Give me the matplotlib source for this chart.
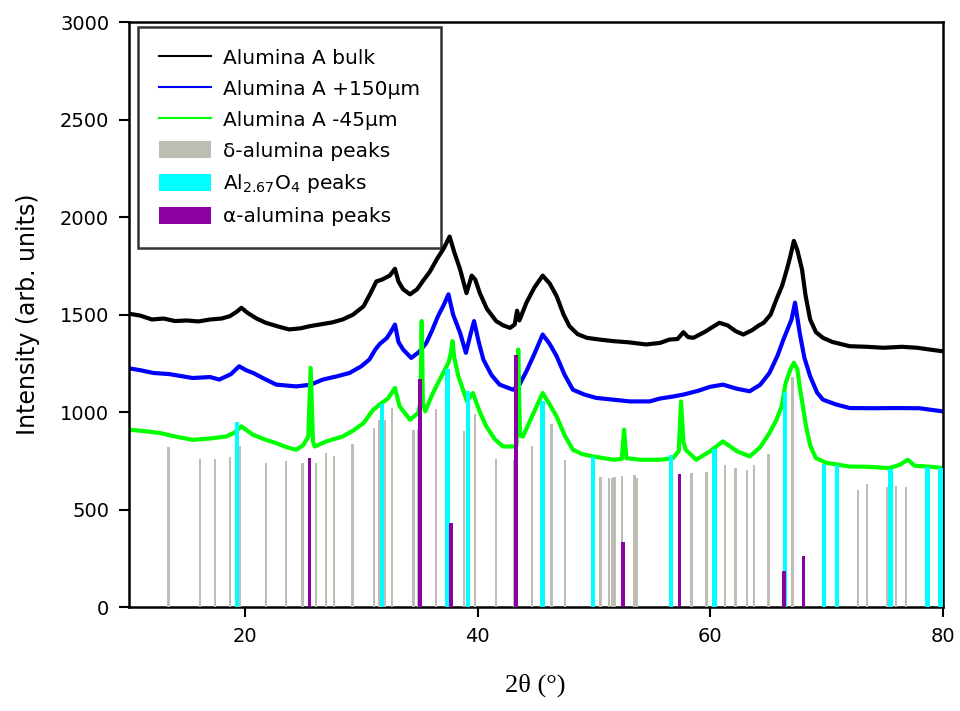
import matplotlib
matplotlib.use("Agg")
import matplotlib.pyplot as plt

plt.rcParams['font.family'] = ['DejaVu Sans']
plt.rcParams['mathtext.fontset'] = 'dejavusans'
plt.rcParams['mathtext.default'] = 'regular'

# ---- data: diffraction patterns ----
bulk_x = [10, 11, 12, 13, 14, 15, 16, 17, 18, 18.7, 19.3, 19.7, 20.2, 21, 21.8, 22.8, 23.8, 24.8,
          25.6, 26.5, 27.5, 28.4, 29.3, 30.2, 30.8, 31.3, 31.8, 32.45, 32.9, 33.2, 33.6, 34.2, 34.8,
          35.3, 35.9, 36.5, 37.1, 37.6, 38.0, 38.5, 39.05, 39.5, 39.8, 40.2, 40.8, 41.6, 42.2, 42.8,
          43.2, 43.4, 43.6, 44.2, 44.9, 45.6, 46.2, 46.8, 47.4, 47.9, 48.6, 49.4, 50.5, 51.7, 53,
          54.5, 55.7, 56.5, 57.2, 57.7, 58.1, 58.55, 59.5, 60.3, 60.8, 61.5, 62.2, 62.85, 63.6, 64.2,
          64.6, 65.2, 65.7, 66.2, 66.6, 66.9, 67.2, 67.5, 67.9, 68.2, 68.6, 69.1, 69.7, 70.5, 72.0,
          73.5, 74.9, 76.5, 77.8, 79, 80]
bulk_y = [1505, 1495, 1475, 1480, 1467, 1470, 1465, 1475, 1480, 1492, 1515, 1535, 1510, 1480, 1458,
          1440, 1424, 1430, 1441, 1450, 1460, 1475, 1500, 1543, 1610, 1670, 1680, 1700, 1735, 1670,
          1630, 1604, 1630, 1672, 1720, 1784, 1840, 1900, 1820, 1732, 1610, 1700, 1680, 1610, 1530,
          1467, 1445, 1432, 1450, 1520, 1470, 1561, 1640, 1700, 1660, 1595, 1500, 1441, 1400, 1381,
          1372, 1364, 1358, 1347, 1355, 1372, 1375, 1410, 1385, 1381, 1410, 1440, 1458, 1445, 1415,
          1398, 1420, 1445, 1458, 1500, 1578, 1650, 1732, 1800, 1878, 1830, 1732, 1600, 1475, 1410,
          1381, 1360, 1338, 1335, 1330, 1335, 1330, 1320, 1312]

p150_x = [10, 11, 12.1, 13.5, 15.5, 17, 17.8, 18.8, 19.5, 20.1, 20.7, 21.7, 22.7, 24.4, 25.6, 26.7,
          28, 29.0, 30, 30.7, 31.2, 31.6, 32.2, 32.5, 32.9, 33.2, 33.6, 34.3, 35.0, 35.6, 36.1, 36.6,
          37.1, 37.5, 37.9, 38.5, 39.0, 39.4, 39.7, 40.1, 40.5, 41.2, 41.9, 43.05, 43.6, 44.2, 44.9,
          45.6, 46.2, 46.8, 47.5, 48.2, 49.2, 50.2, 51.5, 53.1, 54.8, 55.7, 56.8, 57.7, 59, 60, 61.1,
          62.3, 63.4, 64.3, 65.1, 65.8, 66.3, 67.0, 67.3, 67.7, 68.1, 68.6, 69.2, 69.7, 70.8, 72, 74,
          76, 78, 80]
p150_y = [1225, 1215, 1201, 1195, 1175, 1180, 1167, 1195, 1235, 1215, 1201, 1170, 1141, 1132, 1140,
          1167, 1185, 1201, 1235, 1270, 1320, 1350, 1380, 1407, 1449, 1360, 1321, 1278, 1310, 1355,
          1420, 1492, 1550, 1604, 1500, 1407, 1304, 1400, 1467, 1360, 1270, 1190, 1141, 1115, 1140,
          1209, 1300, 1398, 1350, 1287, 1190, 1115, 1090, 1073, 1065, 1055, 1055, 1070, 1080, 1090,
          1110, 1130, 1141, 1120, 1107, 1140, 1201, 1290, 1372, 1475, 1561, 1407, 1280, 1184, 1100,
          1064, 1040, 1021, 1020, 1021, 1020, 1004]

m45_x = [10, 11, 12.7, 14, 15.5, 17, 18.4, 19.1, 19.7, 20.2, 20.7, 21.7, 22.7, 23.6, 24.4, 25.0,
         25.45, 25.65, 25.85, 26.0, 27, 28.4, 29.3, 30.2, 31.0, 31.6, 32.3, 32.9, 33.3, 34.2, 34.9,
         35.1, 35.2, 35.3, 35.5, 36.1, 36.75, 37.5, 37.7, 37.85, 38.0, 38.35, 39.1, 39.6, 40.2, 40.75,
         41.5, 42.2, 43.2, 43.35, 43.5, 43.65, 43.9, 44.7, 45.6, 46.2, 46.8, 47.5, 48.2, 49.0, 49.9,
         51.7, 52.4, 52.6, 52.8, 54, 55.7, 56.8, 57.3, 57.5, 57.7, 57.9, 58.8, 60, 61.1, 62.3, 63.4,
         64.3, 65.1, 65.7, 66.15, 66.5, 66.9, 67.2, 67.5, 67.7, 68.25, 68.6, 69.1, 70, 72, 73.5, 75.4,
         76.3, 77.0, 77.6, 79, 80]
m45_y = [910, 905, 893, 875, 858, 865, 875, 895, 927, 905, 884, 860, 841, 820, 807, 830, 875, 1227,
         850, 824, 850, 875, 905, 944, 1010, 1040, 1070, 1124, 1030, 961, 996, 1050, 1467, 1050, 1004,
         1090, 1167, 1253, 1300, 1364, 1280, 1184, 1055, 1098, 1000, 927, 860, 824, 824, 830, 1321,
         880, 875, 980, 1098, 1040, 978, 880, 807, 785, 773, 756, 760, 910, 764, 756, 756, 764, 800,
         1055, 850, 807, 756, 800, 850, 800, 773, 820, 893, 960, 1030, 1150, 1218, 1253, 1220, 1132,
         927, 830, 764, 740, 721, 720, 713, 730, 756, 725, 720, 713]

# ---- data: reference peak positions ----
delta_x = [13.43, 16.15, 17.4, 18.72, 19.52, 21.8, 23.55, 24.95, 26.13, 26.98, 27.64, 29.24, 31.1,
           31.53, 32.0, 32.67, 34.5, 34.9, 36.45, 38.85, 39.77, 41.57, 43.17, 44.68, 46.37, 47.51,
           50.57, 51.32, 51.58, 51.77, 52.43, 53.49, 53.72, 58.41, 59.7, 61.3, 62.18, 63.18, 63.76,
           65.01, 67.07, 72.7, 73.5, 75.25, 75.99, 76.85]
delta_h = [822, 760, 760, 770, 825, 738, 748, 741, 741, 791, 776, 836, 918, 959, 961, 1019, 907, 913,
           1014, 901, 990, 759, 757, 827, 938, 755, 668, 663, 663, 668, 673, 678, 663, 690, 695, 729,
           712, 702, 728, 784, 1178, 603, 633, 616, 621, 616]
al267_x = [19.3, 31.8, 37.42, 39.19, 45.57, 49.91, 56.64, 60.38, 66.42, 69.81, 70.93, 75.5, 78.7, 79.8]
al267_h = [950, 1042, 1223, 1110, 1058, 772, 779, 810, 1101, 733, 729, 707, 719, 712]
alpha_x = [25.53, 35.07, 37.73, 43.31, 52.52, 57.35, 66.36, 68.04]
alpha_h = [767, 1170, 430, 1293, 334, 682, 188, 265]

fig = plt.figure(figsize=(9.6, 7.11), dpi=100)
ax = fig.add_axes([0.134, 0.146, 0.848, 0.823])

ax.plot(bulk_x, bulk_y, color='black', lw=3.0, label='Alumina A bulk', zorder=2)
ax.plot(p150_x, p150_y, color='#0000FF', lw=3.0, label='Alumina A +150\u03bcm', zorder=2)
ax.plot(m45_x, m45_y, color='#00FF00', lw=3.0, label='Alumina A -45\u03bcm', zorder=2)

ax.bar(delta_x, delta_h, width=0.2, color='#BDBDB3', label='\u03b4-alumina peaks', zorder=3)
ax.bar(al267_x, al267_h, width=0.38, color='#00FFFF', label='Al$_{2.67}$O$_4$ peaks', zorder=3)
ax.bar(alpha_x, alpha_h, width=0.3, color='#8B00A3', label='\u03b1-alumina peaks', zorder=3)

ax.set_xlim(10, 80)
ax.set_ylim(0, 3000)
ax.set_xticks([20, 40, 60, 80])
ax.set_yticks([0, 500, 1000, 1500, 2000, 2500, 3000])
for s in ax.spines.values():
    s.set_linewidth(1.8)
ax.tick_params(direction='out', length=7, width=1.5, labelsize=14)
ax.tick_params(axis='x', pad=7)
ax.tick_params(axis='y', pad=7)

ax.set_xlabel('2\u03b8 (\u00b0)', family=['Liberation Serif', 'DejaVu Serif'], fontsize=19, labelpad=20)
ax.set_ylabel('Intensity (arb. units)', fontsize=17, labelpad=14)

leg = ax.legend(loc='upper left', bbox_to_anchor=(0.011, 0.991), borderaxespad=0,
                fontsize=14.5, frameon=True, fancybox=False, edgecolor='black',
                handlelength=2.6, handleheight=0.9, handletextpad=0.6,
                labelspacing=0.58, borderpad=1.05)
leg.get_frame().set_linewidth(1.8)
for ln in leg.get_lines():
    ln.set_linewidth(1.5)

fig.savefig('out.png', dpi=100)
